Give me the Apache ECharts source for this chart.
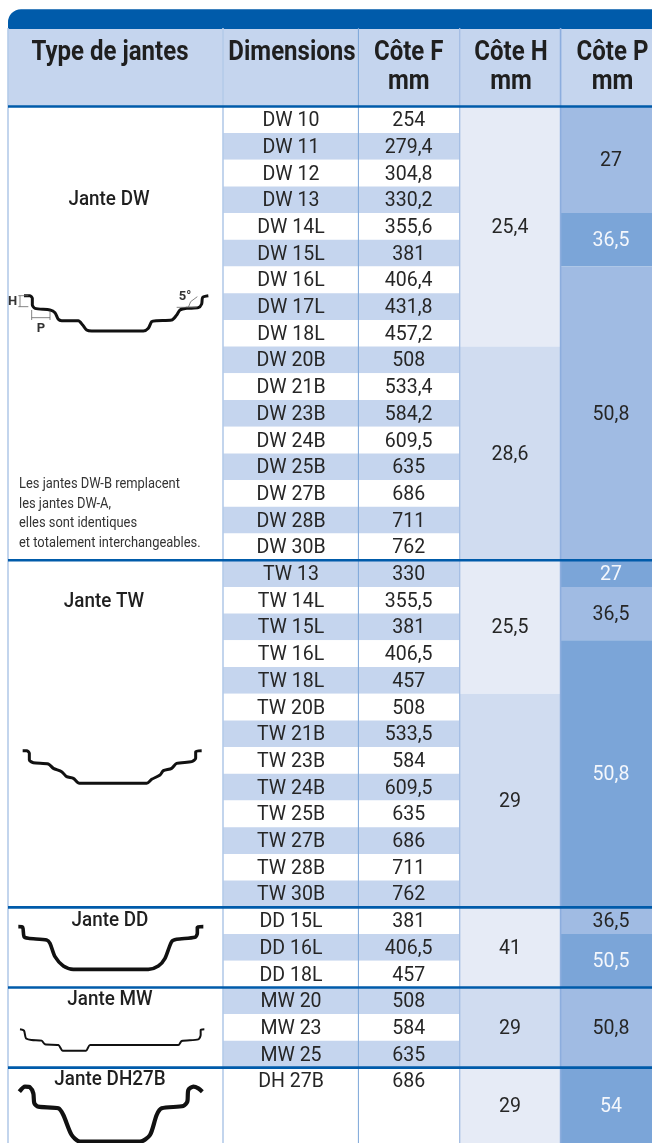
<!DOCTYPE html>
<html><head><meta charset="utf-8">
<script src="https://cdn.jsdelivr.net/npm/echarts@6/dist/echarts.min.js"></script>
<style>html,body{margin:0;padding:0;background:#fff}#c{width:652px;height:1143px}</style>
</head><body><div id="c"></div>
<script>
// ---- table content ----
const headers = [['Type de jantes'], ['Dimensions'], ['Côte F', 'mm'], ['Côte H', 'mm'], ['Côte P', 'mm']];
const dimensions = ['DW 10','DW 11','DW 12','DW 13','DW 14L','DW 15L','DW 16L','DW 17L','DW 18L','DW 20B','DW 21B','DW 23B','DW 24B','DW 25B','DW 27B','DW 28B','DW 30B',
  'TW 13','TW 14L','TW 15L','TW 16L','TW 18L','TW 20B','TW 21B','TW 23B','TW 24B','TW 25B','TW 27B','TW 28B','TW 30B',
  'DD 15L','DD 16L','DD 18L','MW 20','MW 23','MW 25','DH 27B'];
const coteF = ['254','279,4','304,8','330,2','355,6','381','406,4','431,8','457,2','508','533,4','584,2','609,5','635','686','711','762',
  '330','355,5','381','406,5','457','508','533,5','584','609,5','635','686','711','762',
  '381','406,5','457','508','584','635','686'];
const coteH = ['25,4','28,6','25,5','29','41','29','29'];
const coteHRows = [9,8,5,8,3,3,1];
const coteP = ['27','36,5','50,8','27','36,5','50,8','36,5','50,5','50,8','54'];
const cotePRows = [4,2,11,1,2,10,1,2,3,1];
const cotePStrong = [0,1,0,1,0,1,0,1,0,1];
const rimNames = ['Jante DW','Jante TW','Jante DD','Jante MW','Jante DH27B'];
const sectionStarts = [0,17,30,33,36];
const noteLines = ['Les jantes DW-B remplacent','les jantes DW-A,','elles sont identiques','et totalement interchangeables.'];

// ---- layout (page pixels) ----
const W = 652, H = 1143, ROW = 26.7, BODY_TOP = 106.3;
const ROWS_ABOVE = BODY_TOP / ROW, ROWS_END = (H - BODY_TOP) / ROW;
const rowOf = y => (y - BODY_TOP) / ROW;
const EDGES = [8, 223, 358.4, 459.5, 560, W];
const CENTERS = [110, 291, 408.7, 510, 611];
const HEAD_CENTERS = [110, 292, 408.7, 511, 612.5];
const FONT = 'Roboto';
const INK = '#262626';

// ---- rim outlines, page pixels ----
const z2 = p => p.map(([x, y]) => [x / 3, 280 + y / 3]);
const z4 = p => p.map(([x, y]) => [x / 3, 720 + y / 3]);
const rims = [
  { w: 3, pts: z2([[72,47],[90,47],[97,55],[97,75],[105,85],[150,90],[165,98],[175,118],[185,122],[235,122],[248,135],[260,150],[275,153],[430,153],[445,145],[455,125],[470,122],[515,120],[530,105],[540,90],[560,85],[595,83],[605,72],[608,52],[625,47]]) },
  { w: 3, pts: z4([[68,92],[80,92],[88,100],[88,120],[100,128],[145,132],[160,145],[185,155],[200,170],[220,175],[238,190],[440,190],[455,178],[480,165],[490,152],[515,145],[530,130],[575,125],[587,115],[587,95],[605,92]]) },
  { w: 3.6, pts: z4([[55,620],[68,622],[72,650],[85,655],[140,660],[150,670],[165,710],[190,738],[220,748],[445,748],[475,738],[495,715],[515,665],[530,658],[585,652],[592,640],[592,622],[610,620]]) },
  { w: 2, pts: z4([[60,928],[72,932],[78,955],[95,960],[125,962],[135,973],[175,975],[188,992],[258,992],[270,975],[535,975],[545,963],[595,958],[602,945],[602,930],[613,928]]) },
  { w: 4.2, pts: z4([[58,1115],[75,1100],[90,1102],[100,1120],[103,1150],[115,1160],[175,1165],[190,1185],[215,1245],[240,1265],[420,1265],[450,1245],[470,1185],[485,1165],[550,1158],[562,1145],[565,1110],[580,1100],[595,1105],[607,1115]]) }
];
const marks = [
  z2([[55,47],[85,47]]), z2([[55,80],[85,80]]), z2([[60,47],[60,80]]),
  z2([[95,113],[150,113]]), z2([[95,90],[95,120]]), z2([[150,92],[150,120]]),
  z2([[530,82],[590,82]]), z2([[565,82],[572,65],[592,50]])
];

// ---- cells (row units on the y axis) ----
const cells = [];
function cell(x0, x1, r0, r1, fill, text, color, cx) {
  cells.push([x0, x1, r0, r1, fill, text || '', color || INK, cx || 0]);
}
const BODY_FONT = `400 21px ${FONT}`;
const BODY_SQUEEZE = 0.93;
// Zebra rows
dimensions.forEach((d, i) => {
  const fill = i % 2 ? '#c5d5ee' : '#ffffff';
  cell(EDGES[1], EDGES[2], i, i + 1, fill, d, INK, CENTERS[1]);
  cell(EDGES[2], EDGES[3], i, i + 1, fill, coteF[i], INK, CENTERS[2]);
});
// Merged column H
let r = 0;
coteH.forEach((v, i) => {
  const end = i === coteH.length - 1 ? ROWS_END : r + coteHRows[i];
  cell(EDGES[3], EDGES[4], r, end, i === 1 || i === 3 || i === 5 ? '#d0dcf0' : '#e6ebf6', v, INK, CENTERS[3]);
  r += coteHRows[i];
});
// Merged column P
r = 0;
coteP.forEach((v, i) => {
  const end = i === coteP.length - 1 ? ROWS_END : r + cotePRows[i];
  const strong = cotePStrong[i];
  cell(EDGES[4], EDGES[5], r, end, strong ? '#7ba5d8' : '#a0bbe3', v, strong ? '#f4f7fc' : INK, CENTERS[4]);
  r += cotePRows[i];
});

// Header fill + title band
const HEAD_TOP = rowOf(28), BAND_TOP = rowOf(9.3);

function rectItem(api, x0, x1, r0, r1, fill) {
  const a = api.coord([x0, r0]), b = api.coord([x1, r1]);
  return { type: 'rect', shape: { x: a[0], y: a[1], width: b[0] - a[0], height: b[1] - a[1] }, style: { fill } };
}
// Text squeezed horizontally, because the reference face is a condensed one
const textItem = (x, y, text, fill, font, align, squeeze) => ({
  type: 'text', x, y: y + 1.2, scaleX: squeeze || 1, scaleY: 1,
  style: { x: 0, y: 0, text, fill, font, align: align || 'center', verticalAlign: 'middle' }
});

const cellSeries = {
  type: 'custom', xAxisIndex: 0, yAxisIndex: 0, silent: true, z: 2,
  data: cells.map((c, i) => [i]), encode: { x: 0, y: 0 },
  renderItem(params, api) {
    const c = cells[params.dataIndex];
    const children = [rectItem(api, c[0], c[1], c[2], c[3], c[4])];
    const p = api.coord([c[7], (c[2] + c[3]) / 2]);
    children.push(textItem(p[0], p[1], c[5], c[6], BODY_FONT, 'center', BODY_SQUEEZE));
    return { type: 'group', children };
  }
};

const headSeries = {
  type: 'custom', xAxisIndex: 0, yAxisIndex: 0, silent: true, z: 3,
  data: [[0]], encode: { x: 0, y: 0 },
  renderItem(params, api) {
    const a = api.coord([EDGES[0], BAND_TOP]), b = api.coord([W, HEAD_TOP]), c = api.coord([W, 0]);
    const kids = [
      { type: 'rect', shape: { x: a[0], y: b[1], width: b[0] - a[0], height: c[1] - b[1] }, style: { fill: '#c5d5ee' } },
      { type: 'rect', shape: { x: a[0], y: a[1], width: b[0] - a[0], height: b[1] - a[1] + 1, r: [13, 0, 0, 0] }, style: { fill: '#005baa' } }
    ];
    headers.forEach((lines, i) => {
      lines.forEach((t, j) => {
        const p = api.coord([HEAD_CENTERS[i], rowOf(j ? 81.5 : 52.5)]);
        kids.push(textItem(p[0], p[1], t, '#1f1f1f', `700 27px ${FONT}`, 'center', 0.89));
      });
    });
    return { type: 'group', children: kids };
  }
};

// Column and section rules
const vRules = [
  [EDGES[0], 1.6, '#b4cbe9'], [EDGES[1], 1.6, '#b4cbe9'], [EDGES[2], 1, '#7ba5d8'],
  [EDGES[3] + 0.2, 1.3, '#a3bde3'], [EDGES[4] + 0.6, 1.6, '#8cadde']
];
const ruleSeries = {
  type: 'custom', xAxisIndex: 0, yAxisIndex: 0, silent: true, z: 4,
  data: [[0]], encode: { x: 0, y: 0 },
  renderItem(params, api) {
    const kids = [];
    vRules.forEach(([x, w, col]) => {
      kids.push(rectItem(api, x - w / 2, x + w / 2, HEAD_TOP, ROWS_END, col));
    });
    sectionStarts.forEach(s => {
      const y0 = s === 0 ? rowOf(105.2) : s - 0.045;
      kids.push(rectItem(api, EDGES[0], W, y0, y0 + (2.6 / ROW), '#005baa'));
    });
    return { type: 'group', children: kids };
  }
};

// Left column captions
const captionY = [199, 601, 920, 999, 1079];
const captionX = [109, 104, 110, 110, 110];
const captionSeries = {
  type: 'custom', xAxisIndex: 0, yAxisIndex: 1, silent: true, z: 6,
  data: rimNames.map((n, i) => [i]), encode: { x: 0, y: 0 },
  renderItem(params, api) {
    const i = params.dataIndex, p = api.coord([captionX[i], captionY[i]]);
    return textItem(p[0], p[1], rimNames[i], '#1f1f1f', `500 20.5px ${FONT}`, 'center', 0.92);
  }
};
const noteY = [483, 503, 522, 542];
const extraLabels = [['H', 12.5, 301, '700 13px'], ['P', 41, 328, '700 13px'], ['5°', 185, 296, '700 13px']];
const noteSeries = {
  type: 'custom', xAxisIndex: 0, yAxisIndex: 1, silent: true, z: 6,
  data: [[0]], encode: { x: 0, y: 0 },
  renderItem(params, api) {
    const kids = noteLines.map((t, i) => {
      const p = api.coord([19, noteY[i]]);
      return textItem(p[0], p[1], t, '#333', `400 14.5px ${FONT}`, 'left', 0.89);
    });
    extraLabels.forEach(([t, x, y, f]) => {
      const p = api.coord([x, y]);
      kids.push(textItem(p[0], p[1], t, '#333', `${f} ${FONT}`));
    });
    return { type: 'group', children: kids };
  }
};

const rimSeries = rims.map(r => ({
  type: 'line', xAxisIndex: 0, yAxisIndex: 1, data: r.pts, smooth: 0.25, showSymbol: false, silent: true, clip: false, z: 5,
  lineStyle: { color: '#111', width: r.w, join: 'round' }, animation: false
}));
const markSeries = marks.map(m => ({
  type: 'line', xAxisIndex: 0, yAxisIndex: 1, data: m, showSymbol: false, silent: true, z: 5,
  lineStyle: { color: '#666', width: 0.8 }, animation: false
}));

const chart = echarts.init(document.getElementById('c'), null, { renderer: 'canvas' });
chart.setOption({
  animation: false,
  backgroundColor: '#fff',
  grid: { left: 0, right: 0, top: 0, bottom: 0 },
  xAxis: [{ type: 'value', min: 0, max: W, show: false }],
  yAxis: [
    { type: 'value', inverse: true, min: -ROWS_ABOVE, max: ROWS_END, show: false },
    { type: 'value', inverse: true, min: 0, max: H, show: false }
  ],
  tooltip: { show: false },
  series: [cellSeries, headSeries, ruleSeries, captionSeries, noteSeries, ...rimSeries, ...markSeries]
});
</script></body></html>
